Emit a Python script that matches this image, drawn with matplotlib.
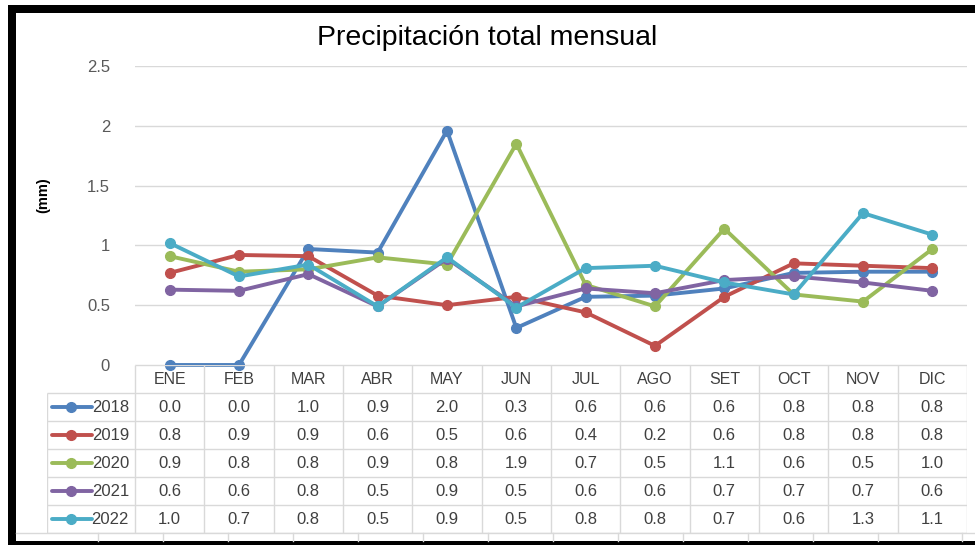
import numpy as np
import matplotlib.pyplot as plt
from matplotlib.patches import Rectangle
from matplotlib.lines import Line2D

plt.rcParams['font.family'] = ['Liberation Sans', 'DejaVu Sans']

# Datos (mm)
meses = ['ENE', 'FEB', 'MAR', 'ABR', 'MAY', 'JUN', 'JUL', 'AGO', 'SET', 'OCT', 'NOV', 'DIC']
anios = ['2018', '2019', '2020', '2021', '2022']
p2018 = [0.0, 0.0, 0.97, 0.94, 1.96, 0.31, 0.57, 0.58, 0.64, 0.77, 0.78, 0.78]
p2019 = [0.77, 0.92, 0.91, 0.58, 0.50, 0.57, 0.44, 0.16, 0.57, 0.85, 0.83, 0.81]
p2020 = [0.91, 0.78, 0.80, 0.90, 0.84, 1.85, 0.67, 0.49, 1.14, 0.59, 0.53, 0.97]
p2021 = [0.63, 0.62, 0.76, 0.49, 0.89, 0.49, 0.64, 0.60, 0.71, 0.74, 0.69, 0.62]
p2022 = [1.02, 0.74, 0.84, 0.49, 0.90, 0.48, 0.81, 0.83, 0.69, 0.59, 1.27, 1.09]
series = [p2018, p2019, p2020, p2021, p2022]
colores = ['#4f81bd', '#c0504d', '#9bbb59', '#8064a2', '#4bacc6']

W, H = 975, 545
gris = '#d9d9d9'
texto = '#404040'

fig = plt.figure(figsize=(W / 100, H / 100), dpi=100)


def fx(px):
    return px / W


def fy(py):
    return 1 - py / H


# Grafico de lineas
x0, x1 = 135, 967
ytop, ybot = 66, 365
ax = fig.add_axes([fx(x0), fy(ybot), (x1 - x0) / W, (ybot - ytop) / H])
x = np.arange(len(meses))
for serie, anio, col in zip(series, anios, colores):
    ax.plot(x, serie, color=col, lw=2.8, marker='o', ms=7, clip_on=False,
            solid_joinstyle='round', zorder=3)
ax.set_xlim(-0.5, 11.5)
ax.set_ylim(0, 2.5)
ax.set_yticks(np.arange(0, 2.51, 0.5))
ax.set_yticklabels(['0', '0.5', '1', '1.5', '2', '2.5'])
ax.tick_params(axis='y', length=0, pad=18, labelsize=12, labelcolor='#595959')
ax.set_xticks([])
for s in ax.spines.values():
    s.set_visible(False)
ax.grid(axis='y', color=gris, lw=1)
ax.set_axisbelow(True)

fig.text(0.5, fy(38), 'Precipitación total mensual', ha='center', va='center',
         fontsize=20.5, color='black')
fig.text(fx(43), fy(195), '(mm)', rotation=90, ha='center', va='center',
         fontsize=10.5, fontweight='bold', color='black')

# Tabla de datos
tab_x0, tab_y1 = 47, 533
tab = fig.add_axes([fx(tab_x0), fy(tab_y1), (x1 - tab_x0) / W, (tab_y1 - ybot) / H])
ancho_col = (x1 - x0) / 12
ancho_etq = (x0 - tab_x0) / ancho_col
izq = -0.5 - ancho_etq
tab.set_xlim(izq, 11.5)
tab.set_ylim(6, 0)
tab.axis('off')
tab.hlines(0, -0.5, 11.5, color=gris, lw=1)
tab.hlines(np.arange(1, 7), izq, 11.5, color=gris, lw=1)
tab.vlines(np.arange(-0.5, 12), 0, 6, color=gris, lw=1)
tab.vlines(izq, 1, 6, color=gris, lw=1)

for j, m in enumerate(meses):
    tab.text(j, 0.5, m, ha='center', va='center', fontsize=11.5, color=texto)


def px2d(px):
    return izq + (px - tab_x0) / ancho_col


for i, (serie, anio, col) in enumerate(zip(series, anios, colores)):
    yy = i + 1.5
    for j, v in enumerate(serie):
        tab.text(j, yy, f'{v:.1f}', ha='center', va='center', fontsize=12, color=texto)
    tab.plot([px2d(52), px2d(92)], [yy, yy], color=col, lw=2.8, solid_capstyle='round')
    tab.plot([px2d(71)], [yy], color=col, marker='o', ms=7)
    tab.text(px2d(129), yy, anio, ha='right', va='center', fontsize=12, color=texto)

# Celdas de la hoja debajo del grafico
fig.add_artist(Line2D([fx(16), 1], [fy(533), fy(533)], color=gris, lw=1))
for px in list(range(98, 880, 65)) + [962]:
    fig.add_artist(Line2D([fx(px), fx(px)], [fy(533), fy(541)], color=gris, lw=1))

# Marco negro
fig.add_artist(Rectangle((fx(8), fy(13)), 1 - fx(8), 8 / H, color='black', lw=0))
fig.add_artist(Rectangle((fx(8), 0), 8 / W, fy(5), color='black', lw=0))
fig.add_artist(Rectangle((fx(8), 0), 1 - fx(8), 4 / H, color='black', lw=0))

fig.savefig('out.png', dpi=100)
